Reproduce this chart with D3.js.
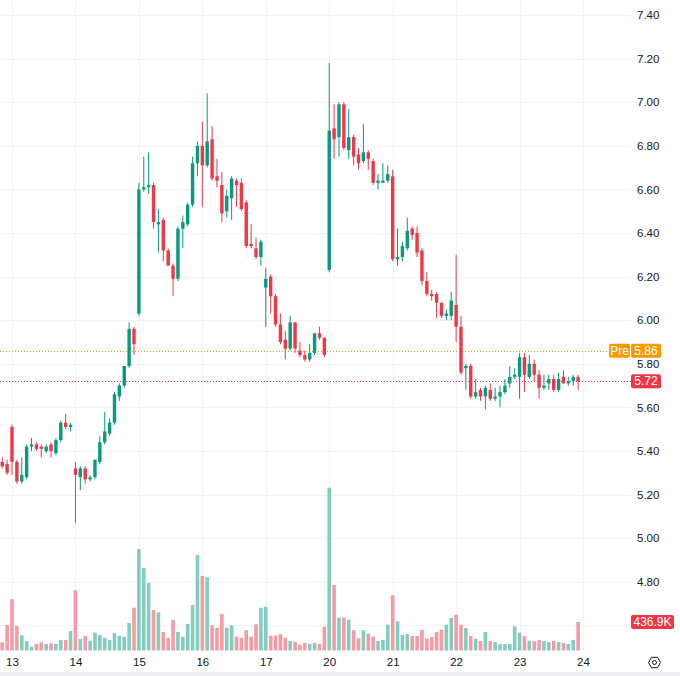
<!DOCTYPE html>
<html>
<head>
<meta charset="utf-8">
<script src="https://cdn.jsdelivr.net/npm/d3@7"></script>
<style>
  body { margin: 0; background: #fff; }
  svg { display: block; font-family: "Liberation Sans", Arial, sans-serif; }
</style>
</head>
<body>
<div id="chart"></div>
<script>
// 30 minute candles, 13 per session. the first two bars are the end of the 12th
var dayLabels = ["13", "14", "15", "16", "17", "20", "21", "22", "23", "24"];
var dayStart = [2, 15, 28, 41, 54, 67, 80, 93, 106, 119];

var opens = [
  5.35, 5.34, 5.51, 5.35, 5.26, 5.28, 5.42, 5.43, 5.42, 5.40, 5.43, 5.39, 5.45, 5.53, 5.51,
  5.32, 5.28, 5.32, 5.27, 5.28, 5.35, 5.44, 5.48, 5.53, 5.65, 5.70, 5.79, 5.96,
  6.03, 6.60, 6.61, 6.62, 6.44, 6.46, 6.32, 6.25, 6.19, 6.42, 6.44, 6.53, 6.72,
  6.80, 6.71, 6.83, 6.66, 6.62, 6.50, 6.56, 6.64, 6.63, 6.54, 6.35, 6.33, 6.29,
  6.15, 6.20, 6.11, 5.98, 5.91, 5.87, 5.99, 5.86, 5.84, 5.82, 5.85, 5.94, 5.92,
  6.23, 6.88, 6.84, 6.99, 6.78, 6.84, 6.76, 6.73, 6.77, 6.73, 6.63, 6.63, 6.64,
  6.66, 6.28, 6.29, 6.33, 6.42, 6.40, 6.32, 6.18, 6.12, 6.12, 6.08, 6.02, 6.02,
  6.07, 5.97, 5.78, 5.79, 5.65, 5.68, 5.65, 5.68, 5.64, 5.65, 5.67, 5.71, 5.74,
  5.74, 5.83, 5.74, 5.80, 5.75, 5.69, 5.71, 5.73, 5.68, 5.74, 5.71, 5.72, 5.74
];
var highs = [
  5.37, 5.36, 5.52, 5.36, 5.37, 5.43, 5.46, 5.44, 5.43, 5.43, 5.44, 5.46, 5.54, 5.57, 5.53,
  5.35, 5.33, 5.33, 5.29, 5.36, 5.47, 5.58, 5.55, 5.67, 5.71, 5.79, 5.99, 5.97,
  6.63, 6.75, 6.77, 6.63, 6.51, 6.47, 6.33, 6.26, 6.43, 6.48, 6.54, 6.75, 6.82,
  6.91, 7.04, 6.89, 6.74, 6.68, 6.60, 6.66, 6.65, 6.65, 6.55, 6.44, 6.38, 6.37,
  6.24, 6.21, 6.12, 6.03, 5.95, 6.02, 5.99, 5.90, 5.86, 5.89, 5.94, 5.97, 5.92,
  7.18, 6.99, 7.00, 7.00, 6.97, 6.85, 6.79, 6.90, 6.78, 6.74, 6.67, 6.72, 6.71,
  6.69, 6.42, 6.36, 6.47, 6.43, 6.43, 6.33, 6.22, 6.14, 6.13, 6.08, 6.05, 6.13,
  6.30, 6.02, 5.80, 5.80, 5.73, 5.69, 5.70, 5.71, 5.69, 5.70, 5.73, 5.79, 5.78,
  5.85, 5.85, 5.84, 5.82, 5.77, 5.75, 5.75, 5.75, 5.76, 5.77, 5.74, 5.75, 5.75
];
var lows = [
  5.32, 5.29, 5.29, 5.25, 5.25, 5.27, 5.40, 5.40, 5.37, 5.39, 5.37, 5.38, 5.44, 5.50, 5.49,
  5.07, 5.22, 5.25, 5.26, 5.27, 5.34, 5.43, 5.47, 5.52, 5.63, 5.69, 5.78, 5.84,
  6.02, 6.59, 6.58, 6.42, 6.31, 6.27, 6.25, 6.11, 6.18, 6.33, 6.43, 6.52, 6.66,
  6.52, 6.70, 6.64, 6.61, 6.45, 6.47, 6.46, 6.52, 6.50, 6.33, 6.33, 6.28, 6.25,
  5.97, 6.03, 5.97, 5.89, 5.82, 5.86, 5.85, 5.83, 5.81, 5.81, 5.84, 5.91, 5.83,
  6.22, 6.74, 6.75, 6.78, 6.74, 6.71, 6.69, 6.72, 6.69, 6.62, 6.60, 6.63, 6.63,
  6.27, 6.25, 6.27, 6.32, 6.37, 6.29, 6.16, 6.11, 6.09, 6.01, 6.01, 6.00, 6.00,
  5.90, 5.75, 5.68, 5.64, 5.64, 5.63, 5.59, 5.63, 5.63, 5.60, 5.66, 5.69, 5.73,
  5.64, 5.67, 5.73, 5.72, 5.64, 5.68, 5.68, 5.67, 5.67, 5.71, 5.70, 5.70, 5.68
];
var closes = [
  5.33, 5.30, 5.35, 5.26, 5.29, 5.42, 5.43, 5.41, 5.41, 5.42, 5.40, 5.45, 5.53, 5.51, 5.52,
  5.29, 5.32, 5.27, 5.28, 5.36, 5.44, 5.49, 5.53, 5.66, 5.70, 5.79, 5.96, 5.89,
  6.60, 6.61, 6.62, 6.45, 6.45, 6.32, 6.25, 6.19, 6.42, 6.45, 6.53, 6.72, 6.80,
  6.71, 6.82, 6.65, 6.64, 6.49, 6.57, 6.65, 6.62, 6.51, 6.34, 6.34, 6.29, 6.36,
  6.19, 6.11, 5.98, 5.90, 5.87, 5.99, 5.87, 5.84, 5.82, 5.85, 5.94, 5.92, 5.84,
  6.87, 6.83, 6.99, 6.79, 6.84, 6.75, 6.72, 6.77, 6.74, 6.63, 6.64, 6.64, 6.67,
  6.28, 6.29, 6.34, 6.41, 6.39, 6.31, 6.18, 6.12, 6.11, 6.08, 6.02, 6.03, 6.09,
  5.97, 5.76, 5.79, 5.65, 5.67, 5.65, 5.69, 5.64, 5.65, 5.67, 5.70, 5.74, 5.75,
  5.83, 5.75, 5.80, 5.75, 5.69, 5.70, 5.73, 5.68, 5.73, 5.71, 5.72, 5.74, 5.72
];
// volume in thousands of shares
var volumesK = [
  126, 391, 785, 376, 233, 146, 58, 100, 126, 100, 110, 100, 161, 161, 299,
  923, 176, 222, 150, 273, 238, 196, 161, 268, 227, 212, 422, 656,
  1556, 1265, 1035, 621, 586, 284, 196, 472, 284, 212, 406, 698, 1464,
  1142, 1122, 386, 350, 560, 350, 386, 212, 196, 310, 212, 402, 656,
  671, 227, 227, 253, 196, 146, 135, 89, 115, 104, 115, 100, 365,
  2496, 1004, 503, 503, 472, 310, 187, 310, 258, 212, 146, 161, 396,
  846, 448, 238, 253, 222, 222, 319, 181, 207, 284, 319, 396, 498,
  549, 396, 345, 222, 181, 146, 284, 146, 130, 100, 100, 100, 371,
  273, 222, 146, 141, 161, 146, 130, 146, 130, 115, 100, 161, 436.9
];

var priceTicks = [7.4, 7.2, 7.0, 6.8, 6.6, 6.4, 6.2, 6.0, 5.8, 5.6, 5.4, 5.2, 5.0, 4.8];
var gridPrices = [7.4, 7.2, 7.0, 6.8, 6.6, 6.4, 6.2, 6.0, 5.8, 5.6, 5.4, 5.2, 5.0, 4.8, 4.6];
var prePrice = 5.86;
var lastPrice = 5.72;
var lastVolumeK = 436.9;

var svgWidth = 680;
var svgHeight = 676;
var plotRight = 631;
var plotBottom = 650.5;

var upColor = "#089981";
var downColor = "#f23645";
var upVol = "#84ccc0";
var downVol = "#f79aa2";
var gridColor = "#f0f2f5";
var textColor = "#131722";

var candles = opens.map(function(o, i) {
  return { i: i, open: o, high: highs[i], low: lows[i], close: closes[i], vol: volumesK[i] };
});

var svg = d3.select("#chart")
  .append("svg")
  .attr("width", svgWidth)
  .attr("height", svgHeight);

svg.append("rect")
  .attr("width", svgWidth)
  .attr("height", svgHeight)
  .attr("fill", "#fff");

// scales
var xScale = d3.scaleLinear().domain([2, 119]).range([12, 583]);
var yPrice = d3.scaleLinear().domain([4.8, 7.4]).range([581.8, 15]);
var yVol = d3.scaleLinear().domain([0, lastVolumeK]).range([plotBottom, 622]);

// grid
svg.append("g").selectAll("line")
  .data(gridPrices)
  .enter()
  .append("line")
  .attr("x1", 0)
  .attr("x2", plotRight)
  .attr("y1", d => Math.round(yPrice(d)) + 0.5)
  .attr("y2", d => Math.round(yPrice(d)) + 0.5)
  .attr("stroke", gridColor);

svg.append("g").selectAll("line")
  .data(dayStart)
  .enter()
  .append("line")
  .attr("x1", d => Math.round(xScale(d)) + 0.5)
  .attr("x2", d => Math.round(xScale(d)) + 0.5)
  .attr("y1", 0)
  .attr("y2", plotBottom)
  .attr("stroke", gridColor);

// volume bars
svg.append("g").selectAll("rect")
  .data(candles)
  .enter()
  .append("rect")
  .attr("x", d => xScale(d.i) - 1.8)
  .attr("width", 3.6)
  .attr("y", d => yVol(d.vol))
  .attr("height", d => plotBottom - yVol(d.vol))
  .attr("fill", d => d.close >= d.open ? upVol : downVol);

// price lines
svg.append("line")
  .attr("x1", 0).attr("x2", 609)
  .attr("y1", Math.round(yPrice(prePrice)) + 0.5)
  .attr("y2", Math.round(yPrice(prePrice)) + 0.5)
  .attr("stroke", "#ff9800")
  .attr("stroke-dasharray", "1,2");

svg.append("line")
  .attr("x1", 0).attr("x2", plotRight)
  .attr("y1", Math.round(yPrice(lastPrice)) + 0.5)
  .attr("y2", Math.round(yPrice(lastPrice)) + 0.5)
  .attr("stroke", downColor)
  .attr("stroke-dasharray", "1,2");

// candles
var candleGroup = svg.append("g");

candleGroup.selectAll("line")
  .data(candles)
  .enter()
  .append("line")
  .attr("x1", d => xScale(d.i))
  .attr("x2", d => xScale(d.i))
  .attr("y1", d => yPrice(d.high))
  .attr("y2", d => yPrice(d.low))
  .attr("stroke", d => d.close >= d.open ? upColor : downColor)
  .attr("stroke-width", 1);

candleGroup.selectAll("rect")
  .data(candles)
  .enter()
  .append("rect")
  .attr("x", d => xScale(d.i) - 1.7)
  .attr("width", 3.4)
  .attr("y", d => yPrice(Math.max(d.open, d.close)))
  .attr("height", d => Math.max(1, Math.abs(yPrice(d.open) - yPrice(d.close))))
  .attr("fill", d => d.close >= d.open ? upColor : downColor);

// price axis
var priceAxis = svg.append("g")
  .attr("transform", `translate(${plotRight}, 0)`)
  .call(d3.axisRight(yPrice).tickValues(priceTicks).tickFormat(d3.format(".2f")).tickSize(0).tickPadding(6));
priceAxis.select(".domain").remove();
priceAxis.selectAll("text")
  .attr("fill", textColor)
  .attr("font-size", "11.5px")
  .attr("font-family", "Liberation Sans, Arial, sans-serif");

// time axis
var timeAxis = svg.append("g")
  .attr("transform", `translate(0, ${plotBottom})`)
  .call(d3.axisBottom(xScale).tickValues(dayStart).tickFormat((d, i) => dayLabels[i]).tickSize(0).tickPadding(7));
timeAxis.select(".domain").remove();
timeAxis.selectAll("text")
  .attr("fill", textColor)
  .attr("font-size", "11.5px")
  .attr("font-family", "Liberation Sans, Arial, sans-serif");

// price badges
function badge(x, y, w, label, fill) {
  svg.append("rect")
    .attr("x", x).attr("y", y - 7)
    .attr("width", w).attr("height", 14)
    .attr("rx", 2)
    .attr("fill", fill);
  svg.append("text")
    .attr("x", x + w / 2).attr("y", y)
    .attr("dy", "0.35em")
    .attr("text-anchor", "middle")
    .attr("fill", "#fff")
    .attr("font-size", "12px")
    .text(label);
}

badge(609, yPrice(prePrice), 21, "Pre", "#ff9800");
badge(631, yPrice(prePrice), 30, d3.format(".2f")(prePrice), "#ff9800");
badge(631, yPrice(lastPrice), 30, d3.format(".2f")(lastPrice), downColor);
badge(631, yVol(lastVolumeK), 43, lastVolumeK + "K", downColor);

// settings gear
var gear = svg.append("g").attr("transform", "translate(654.5, 662.5)");
gear.append("path")
  .attr("d", d3.range(6).map(function(k, j) {
    var a = Math.PI / 3 * k;
    return (j ? "L" : "M") + (6 * Math.cos(a)).toFixed(2) + "," + (6 * Math.sin(a)).toFixed(2);
  }).join("") + "Z")
  .attr("fill", "none")
  .attr("stroke", textColor);
gear.append("circle")
  .attr("r", 2)
  .attr("fill", "none")
  .attr("stroke", textColor);

// bottom strip
svg.append("rect")
  .attr("x", 0).attr("y", 672)
  .attr("width", svgWidth).attr("height", 4)
  .attr("fill", "#eceef1");
</script>
</body>
</html>
